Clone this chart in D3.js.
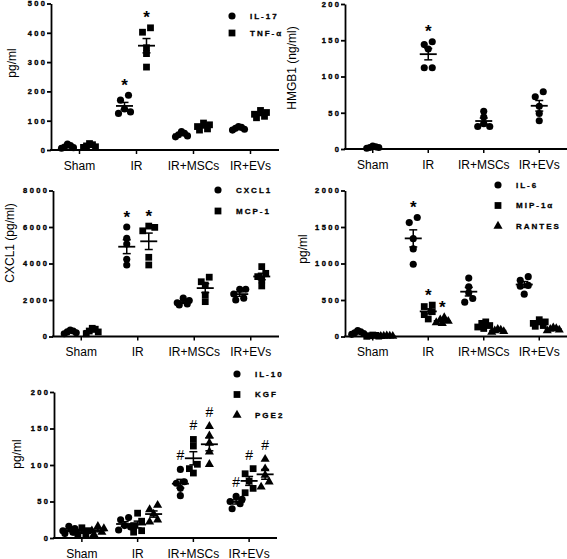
<!DOCTYPE html>
<html>
<head>
<meta charset="utf-8">
<script src="https://cdn.jsdelivr.net/npm/d3@7"></script>
<style>
  html, body { margin: 0; padding: 0; background: #fff; }
  svg { display: block; }
</style>
</head>
<body>
<svg id="chart" width="567" height="559"></svg>
<script>
// ---------- data ----------
const groups = ["Sham", "IR", "IR+MSCs", "IR+EVs"];

// Panel A (pg/ml)
const il17  = [[20, 15, 10, 8, 6], [187, 170, 140, 130, 125], [63, 57, 52, 48, 45], [80, 77, 74, 71, 68]];
const tnfa  = [[22, 18, 14, 11, 9], [417, 402, 349, 329, 283], [92, 86, 80, 72, 68], [135, 128, 122, 115, 110]];
const marksA = [["", "*", "", ""], ["", "*", "", ""]];
const ticksA = [0, 100, 200, 300, 400, 500];

// Panel B (HMGB1 ng/ml)
const hmgb1 = [[4, 3, 2, 2, 1], [148, 144, 138, 112, 112], [52, 44, 35, 31, 31], [79, 72, 59, 49, 39]];
const marksB = [["", "*", "", ""]];
const ticksB = [0, 50, 100, 150, 200];

// Panel C (pg/ml)
const cxcl1 = [[350, 300, 250, 200, 150], [6000, 5380, 5070, 4230, 3920], [2100, 1970, 1850, 1780, 1730], [2590, 2590, 2330, 2100, 2000]];
const mcp1  = [[450, 400, 300, 250, 150], [6050, 5980, 5790, 4340, 3920], [3250, 3000, 2820, 2280, 1910], [3830, 3460, 3280, 3100, 2770]];
const marksC = [["", "*", "", ""], ["", "*", "", ""]];
const ticksC = [0, 2000, 4000, 6000, 8000];

// Panel D (pg/ml)
const il6    = [[80, 65, 50, 40, 30], [1630, 1560, 1340, 1200, 990], [800, 680, 600, 520, 470], [820, 770, 700, 690, 580]];
const mip1a  = [[20, 15, 10, 5, 3], [430, 410, 340, 300, 240], [200, 180, 150, 130, 110], [230, 200, 180, 150, 140]];
const rantes = [[10, 8, 5, 4, 3], [260, 230, 210, 190, 180], [100, 90, 80, 70, 60], [120, 110, 100, 90, 80]];
const marksD = [["", "*", "", ""], ["", "*", "", ""], ["", "*", "", ""]];
const ticksD = [0, 500, 1000, 1500, 2000];

// Panel E (pg/ml)
const il10 = [[16, 13, 10, 8, 6], [28, 25, 17, 15, 11], [94, 77, 75, 68, 58], [57, 53, 50, 47, 40]];
const kgf  = [[14, 10, 8, 5, 4], [34, 23, 17, 10, 8], [135, 126, 101, 95, 89], [95, 88, 78, 68, 62]];
const pge2 = [[16, 13, 10, 8, 5], [45, 39, 33, 25, 22], [153, 140, 130, 118, 101], [108, 95, 86, 77, 70]];
const marksE = [["", "", "#", "#"], ["", "", "#", "#"], ["", "", "#", "#"]];
const ticksE = [0, 50, 100, 150, 200];

// ---------- drawing ----------
const svg = d3.select("#chart");
const FONT = "'Liberation Sans', Arial, sans-serif";
const symbolOf = { circle: d3.symbolCircle, square: d3.symbolSquare, triangle: d3.symbolTriangle };
const symSize = { circle: 40, square: 46, triangle: 36 };

// place points in rows of similar height; within a row fill slots from the centre outwards
function swarm(vals, y, cx) {
  const items = vals.map((v, i) => ({ i, py: y(v) })).sort((a, b) => a.py - b.py);
  const rows = [];
  items.forEach(it => {
    const last = rows[rows.length - 1];
    if (last && it.py - last[0].py < 5.5) last.push(it); else rows.push([it]);
  });
  const out = new Array(vals.length);
  rows.forEach(row => {
    const n = row.length;
    const sp = n > 1 ? Math.min(8, 12 / (n - 1)) : 0;
    const slots = d3.range(n).map(k => k - (n - 1) / 2)
      .sort((a, b) => Math.abs(a) - Math.abs(b) || b - a);
    row.forEach((it, k) => { out[it.i] = [cx + slots[k] * sp, it.py]; });
  });
  return out;
}

function panel(cfg) {
  const g = svg.append("g");
  const x = d3.scaleBand().domain(groups).range([cfg.x0, cfg.x1]);
  const y = d3.scaleLinear().domain([0, cfg.ticks[cfg.ticks.length - 1]]).range([cfg.y0, cfg.y1]);

  // y axis
  const ya = g.append("g").attr("transform", `translate(${cfg.x0},0)`)
    .call(d3.axisLeft(y).tickValues(cfg.ticks).tickFormat(d3.format("d"))
      .tickSize(4).tickSizeOuter(0).tickPadding(2));
  ya.select(".domain").attr("stroke", "#000").attr("stroke-width", 1.8);
  ya.selectAll(".tick line").attr("stroke", "#000").attr("stroke-width", 1.8);
  ya.selectAll(".tick text")
    .attr("font-family", FONT).attr("font-size", 7.5).attr("font-weight", "bold")
    .attr("letter-spacing", "2.4px").attr("dx", 2.4).attr("fill", "#000")
    .attr("stroke", "#000").attr("stroke-width", 0.35);

  // x axis
  g.append("line").attr("x1", cfg.x0 - 1).attr("x2", cfg.x1).attr("y1", cfg.y0).attr("y2", cfg.y0)
    .attr("stroke", "#000").attr("stroke-width", 1.8);
  groups.forEach(gr => {
    const cx = x(gr) + x.bandwidth() / 2;
    g.append("line").attr("x1", cx).attr("x2", cx).attr("y1", cfg.y0).attr("y2", cfg.y0 + 4)
      .attr("stroke", "#000").attr("stroke-width", 1.5);
    g.append("text").attr("x", cx).attr("y", cfg.y0 + 19.5).attr("text-anchor", "middle")
      .attr("font-family", FONT).attr("font-size", 12).attr("fill", "#000").text(gr);
  });

  // y label
  g.append("text").attr("transform", `translate(${cfg.ylx},${cfg.yly}) rotate(-90)`)
    .attr("text-anchor", "middle").attr("dominant-baseline", "central")
    .attr("font-family", FONT).attr("font-size", 12).attr("fill", "#000").text(cfg.ylabel);

  // series
  cfg.series.forEach((s, si) => {
    groups.forEach((gr, gi) => {
      const vals = s.data[gi];
      const cx = x(gr) + x.bandwidth() / 2 + cfg.offsets[si];
      const pts = swarm(vals, y, cx);
      g.selectAll(null).data(pts).enter().append("path")
        .attr("d", d3.symbol().type(symbolOf[s.shape]).size(symSize[s.shape]))
        .attr("transform", d => `translate(${d[0]},${d[1]})`)
        .attr("fill", "#000");
      const m = d3.mean(vals);
      const sem = d3.deviation(vals) / Math.sqrt(vals.length);
      const ym = y(m), yt = y(m + sem), yb = y(Math.max(0, m - sem));
      g.append("line").attr("x1", cx - 8.5).attr("x2", cx + 8.5).attr("y1", ym).attr("y2", ym)
        .attr("stroke", "#000").attr("stroke-width", 1.8);
      g.append("line").attr("x1", cx).attr("x2", cx).attr("y1", yt).attr("y2", yb)
        .attr("stroke", "#000").attr("stroke-width", 1.5);
      [yt, yb].forEach(yy => g.append("line").attr("x1", cx - 4).attr("x2", cx + 4).attr("y1", yy).attr("y2", yy)
        .attr("stroke", "#000").attr("stroke-width", 1.5));
      const mk = cfg.marks[si][gi];
      if (mk) {
        const ty = y(d3.max(vals)) - 14;
        if (mk === "*") {
          g.append("text").attr("x", cx).attr("y", ty + 9.5).attr("text-anchor", "middle")
            .attr("font-family", FONT).attr("font-size", 17).attr("font-weight", "bold").attr("fill", "#000").text(mk);
        } else {
          g.append("text").attr("x", cx).attr("y", ty + 5).attr("text-anchor", "middle")
            .attr("font-family", FONT).attr("font-size", 14).attr("fill", "#000").text(mk);
        }
      }
    });
  });

  // legend
  if (cfg.legend) {
    cfg.series.forEach((s, si) => {
      const ly = cfg.legend.y + si * cfg.legend.dy;
      g.append("path").attr("d", d3.symbol().type(symbolOf[s.shape]).size(symSize[s.shape]))
        .attr("transform", `translate(${cfg.legend.x},${ly})`).attr("fill", "#000");
      g.append("text").attr("x", cfg.legend.x + 18).attr("y", ly).attr("dominant-baseline", "central")
        .attr("font-family", FONT).attr("font-size", 8).attr("font-weight", "bold")
        .attr("letter-spacing", "2px").attr("fill", "#000")
        .attr("stroke", "#000").attr("stroke-width", 0.3).text(s.name);
    });
  }
}

panel({ x0: 51, x1: 279, y0: 150, y1: 3.5, ticks: ticksA, offsets: [-12, 10],
  series: [{ name: "IL-17", shape: "circle", data: il17 }, { name: "TNF-α", shape: "square", data: tnfa }],
  marks: marksA, ylabel: "pg/ml", ylx: 12, yly: 63, legend: { x: 232, y: 16, dy: 17 } });

panel({ x0: 345, x1: 567, y0: 149, y1: 4, ticks: ticksB, offsets: [0],
  series: [{ name: "HMGB1", shape: "circle", data: hmgb1 }],
  marks: marksB, ylabel: "HMGB1 (ng/ml)", ylx: 292, yly: 68, legend: null });

panel({ x0: 53, x1: 279, y0: 336.5, y1: 190.5, ticks: ticksC, offsets: [-11, 11],
  series: [{ name: "CXCL1", shape: "circle", data: cxcl1 }, { name: "MCP-1", shape: "square", data: mcp1 }],
  marks: marksC, ylabel: "CXCL1 (pg/ml)", ylx: 10, yly: 243, legend: { x: 218, y: 190, dy: 21 } });

panel({ x0: 345, x1: 567, y0: 336.5, y1: 190.5, ticks: ticksD, offsets: [-15, 0, 14],
  series: [{ name: "IL-6", shape: "circle", data: il6 }, { name: "MIP-1α", shape: "square", data: mip1a },
           { name: "RANTES", shape: "triangle", data: rantes }],
  marks: marksD, ylabel: "pg/ml", ylx: 303, yly: 249, legend: { x: 498, y: 185, dy: 20.5 } });

panel({ x0: 54, x1: 277, y0: 538, y1: 392, ticks: ticksE, offsets: [-13, 0, 16],
  series: [{ name: "IL-10", shape: "circle", data: il10 }, { name: "KGF", shape: "square", data: kgf },
           { name: "PGE2", shape: "triangle", data: pge2 }],
  marks: marksE, ylabel: "pg/ml", ylx: 17, yly: 454, legend: { x: 237, y: 374, dy: 20.5 } });
</script>
</body>
</html>
